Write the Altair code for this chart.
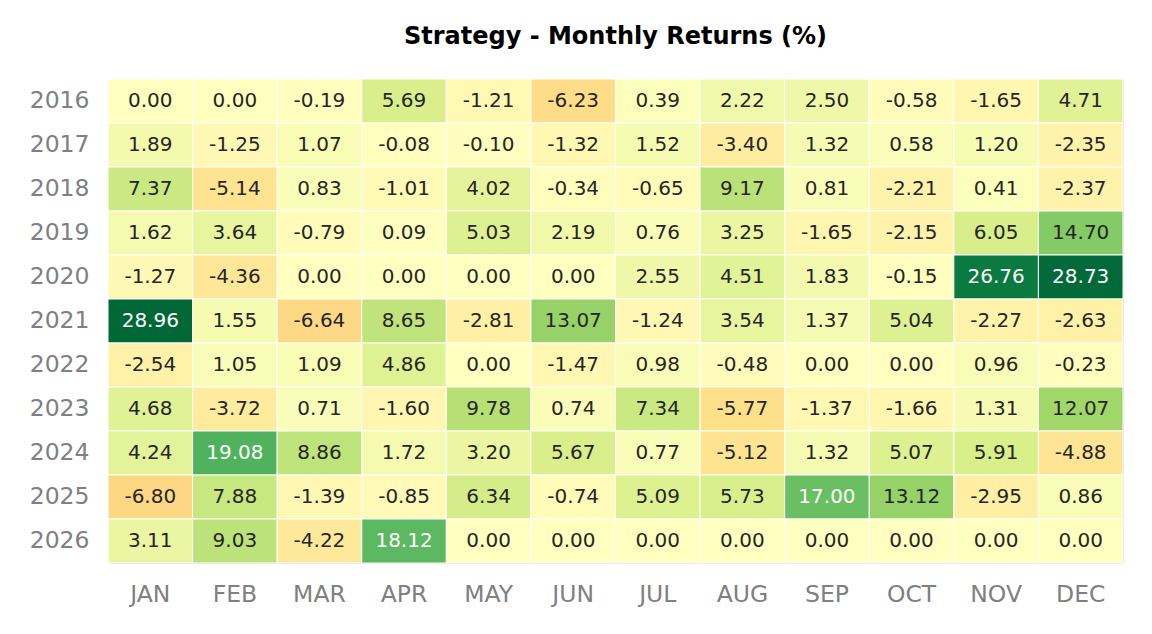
import altair as alt
import pandas as pd

# Monthly returns (%) per year
months = ["JAN", "FEB", "MAR", "APR", "MAY", "JUN", "JUL", "AUG", "SEP", "OCT", "NOV", "DEC"]
years = ["2016", "2017", "2018", "2019", "2020", "2021", "2022", "2023", "2024", "2025", "2026"]

r2016 = [0.00, 0.00, -0.19, 5.69, -1.21, -6.23, 0.39, 2.22, 2.50, -0.58, -1.65, 4.71]
r2017 = [1.89, -1.25, 1.07, -0.08, -0.10, -1.32, 1.52, -3.40, 1.32, 0.58, 1.20, -2.35]
r2018 = [7.37, -5.14, 0.83, -1.01, 4.02, -0.34, -0.65, 9.17, 0.81, -2.21, 0.41, -2.37]
r2019 = [1.62, 3.64, -0.79, 0.09, 5.03, 2.19, 0.76, 3.25, -1.65, -2.15, 6.05, 14.70]
r2020 = [-1.27, -4.36, 0.00, 0.00, 0.00, 0.00, 2.55, 4.51, 1.83, -0.15, 26.76, 28.73]
r2021 = [28.96, 1.55, -6.64, 8.65, -2.81, 13.07, -1.24, 3.54, 1.37, 5.04, -2.27, -2.63]
r2022 = [-2.54, 1.05, 1.09, 4.86, 0.00, -1.47, 0.98, -0.48, 0.00, 0.00, 0.96, -0.23]
r2023 = [4.68, -3.72, 0.71, -1.60, 9.78, 0.74, 7.34, -5.77, -1.37, -1.66, 1.31, 12.07]
r2024 = [4.24, 19.08, 8.86, 1.72, 3.20, 5.67, 0.77, -5.12, 1.32, 5.07, 5.91, -4.88]
r2025 = [-6.80, 7.88, -1.39, -0.85, 6.34, -0.74, 5.09, 5.73, 17.00, 13.12, -2.95, 0.86]
r2026 = [3.11, 9.03, -4.22, 18.12, 0.00, 0.00, 0.00, 0.00, 0.00, 0.00, 0.00, 0.00]

rows = [r2016, r2017, r2018, r2019, r2020, r2021, r2022, r2023, r2024, r2025, r2026]

records = []
for year, vals in zip(years, rows):
    for month, v in zip(months, vals):
        # plain hyphen-minus in the cell annotations
        records.append({"year": year, "month": month, "ret": v, "label": f"{v:.2f}"})
df = pd.DataFrame(records)

# Diverging RdYlGn palette centred on zero, symmetric around the largest magnitude
rdylgn = ["#a50026", "#d73027", "#f46d43", "#fdae61", "#fee08b", "#ffffbf",
          "#d9ef8b", "#a6d96a", "#66bd63", "#1a9850", "#006837"]
vmax = max(abs(v) for r in rows for v in r)
stops = [-vmax + i * (2 * vmax / 10) for i in range(11)]

W, H = 1015, 484

base = alt.Chart(df).encode(
    x=alt.X("month:N", sort=months, title=None,
            axis=alt.Axis(orient="bottom", labelAngle=0, domain=False, ticks=False,
                          labelFont="DejaVu Sans", labelFontSize=23.5, labelColor="#808080",
                          labelPadding=19)),
    y=alt.Y("year:N", sort=years, title=None,
            axis=alt.Axis(domain=False, ticks=False, labelFont="DejaVu Sans",
                          labelFontSize=23.5, labelColor="#808080", labelPadding=19)),
)

cells = base.mark_rect(stroke="white", strokeWidth=1).encode(
    color=alt.Color("ret:Q", legend=None,
                    scale=alt.Scale(domain=stops, range=rdylgn, interpolate="rgb")),
)

labels = base.mark_text(font="DejaVu Sans", fontSize=20).encode(
    text=alt.Text("label:N"),
    color=alt.condition(alt.datum.ret > 15, alt.value("white"), alt.value("#262626")),
)

chart = (cells + labels).properties(
    width=W, height=H,
    title=alt.TitleParams("Strategy - Monthly Returns (%)", font="DejaVu Sans",
                          fontSize=24, fontWeight="bold", color="black",
                          anchor="middle", offset=30),
    autosize=alt.AutoSizeParams(type="none"),
    padding={"left": 108, "top": 79, "right": 29, "bottom": 71},
).configure_view(stroke=None).configure(background="white")

chart.save("out.html", embed_options={"renderer": "svg", "actions": False})
